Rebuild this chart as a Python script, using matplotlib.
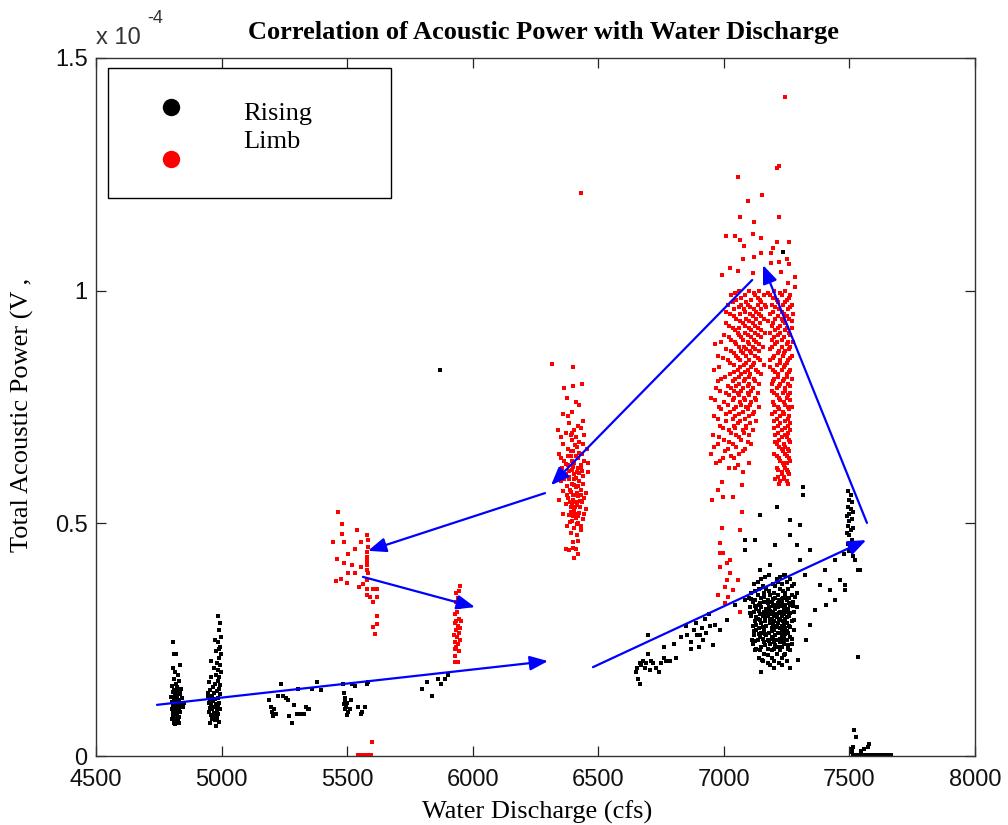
import numpy as np
import matplotlib.pyplot as plt
from matplotlib.patches import Rectangle

# discharge (cfs) vs acoustic power (units of 1e-5 V^2)
black_4800 = [(4805, 2.45), (4820, 2.2), (4812, 2.2), (4835, 1.95), (4808, 1.9), (4815, 1.8),
              (4826, 1.75), (4810, 1.65), (4830, 1.62), (4818, 1.55), (4802, 1.5), (4822, 1.48),
              (4840, 1.45), (4811, 1.42), (4828, 1.4), (4806, 1.38), (4817, 1.35), (4835, 1.33),
              (4813, 1.3), (4824, 1.28), (4800, 1.26), (4809, 1.24), (4820, 1.22), (4832, 1.2),
              (4815, 1.18), (4804, 1.16), (4826, 1.15), (4811, 1.13), (4818, 1.11), (4838, 1.1),
              (4807, 1.09), (4822, 1.07), (4814, 1.05), (4830, 1.04), (4803, 1.02), (4819, 1.0),
              (4827, 0.99), (4810, 0.97), (4816, 0.95), (4834, 0.94), (4805, 0.92), (4823, 0.9),
              (4812, 0.88), (4820, 0.86), (4808, 0.85), (4829, 0.83), (4815, 0.81), (4803, 0.8),
              (4825, 0.78), (4812, 0.76), (4818, 0.74), (4809, 0.72), (4842, 1.25), (4845, 1.05),
              (4850, 1.15), (4836, 1.35), (4814, 0.68), (4830, 0.7)]

black_5000 = [(4985, 3.0), (4992, 2.85), (4990, 2.7), (4998, 2.55), (4975, 2.5), (4985, 2.45),
              (4995, 2.35), (4988, 2.3), (4978, 2.25), (4996, 2.2), (4990, 2.1), (4958, 2.05),
              (4982, 2.0), (4994, 1.95), (4970, 1.9), (4986, 1.85), (4998, 1.8), (4978, 1.75),
              (4960, 1.7), (4990, 1.7), (4984, 1.62), (4952, 1.6), (4975, 1.55), (4995, 1.52),
              (4965, 1.48), (4988, 1.45), (4955, 1.42), (4980, 1.4), (4970, 1.36), (4993, 1.33),
              (4948, 1.3), (4962, 1.28), (4985, 1.25), (4975, 1.22), (4956, 1.2), (4968, 1.18),
              (4990, 1.15), (4950, 1.13), (4978, 1.12), (4960, 1.1), (4985, 1.08), (4970, 1.05),
              (4955, 1.03), (4992, 1.02), (4964, 1.0), (4980, 0.98), (4950, 0.95), (4972, 0.93),
              (4986, 0.9), (4958, 0.88), (4968, 0.85), (4982, 0.82), (4962, 0.8), (4975, 0.78),
              (4990, 0.74), (4955, 0.72), (4978, 0.65), (4970, 0.85), (4945, 1.35)]

black_5300 = [(5190, 1.2), (5195, 1.05), (5200, 0.95), (5205, 0.85), (5210, 1.0), (5215, 0.9),
              (5235, 1.55), (5225, 1.3), (5245, 1.3), (5255, 1.25), (5265, 1.2), (5270, 0.85),
              (5290, 1.1), (5305, 1.45), (5300, 0.9), (5315, 0.9), (5330, 0.9), (5335, 1.05),
              (5345, 1.0), (5350, 1.0), (5360, 1.45), (5380, 1.6), (5395, 1.42), (5280, 0.72),
              (5485, 1.55), (5488, 1.35), (5490, 1.25), (5492, 1.18), (5487, 1.12), (5495, 1.05),
              (5490, 1.0), (5500, 1.15), (5505, 0.95), (5498, 0.88), (5510, 1.0), (5515, 1.2),
              (5520, 1.55), (5530, 1.5), (5545, 1.05), (5555, 0.9), (5560, 0.95), (5570, 1.05),
              (5580, 1.55), (5585, 1.6), (5800, 1.45), (5820, 1.6), (5840, 1.3), (5860, 1.65),
              (5875, 1.55), (5890, 1.65), (5870, 8.3), (5900, 1.75)]

black_6800 = [(6650, 1.8), (6655, 1.9), (6660, 1.65), (6665, 2.0), (6672, 1.95), (6678, 2.05),
              (6685, 1.9), (6690, 2.0), (6700, 2.2), (6705, 1.85), (6712, 2.05), (6720, 2.0),
              (6730, 1.9), (6740, 1.8), (6748, 2.0), (6760, 2.35), (6770, 2.05), (6785, 2.05),
              (6800, 2.4), (6810, 2.1), (6830, 2.55), (6850, 2.8), (6855, 2.6), (6870, 2.45),
              (6880, 2.7), (6890, 2.85), (6900, 2.35), (6905, 2.6), (6915, 2.75), (6925, 2.95),
              (6930, 2.65), (6940, 3.05), (6945, 2.8), (6700, 2.6), (6665, 1.55), (6870, 2.3),
              (6760, 2.1), (6893, 2.6), (6917, 2.49), (6957, 2.39), (6965, 2.82), (6985, 2.71),
              (7013, 2.92), (7045, 3.25), (7084, 3.35)]

# dense black core near 7200 cfs: (power, [discharges])
black_core_rows = [(3.9, [7180, 7240]), (3.8, [7150, 7210, 7265]), (3.7, [7120, 7195, 7230, 7280]),
                   (3.6, [7140, 7170, 7225, 7255]), (3.5, [7110, 7160, 7200, 7245, 7290]),
                   (3.45, [7135, 7185, 7215, 7270]), (3.4, [7100, 7150, 7205, 7235, 7260]),
                   (3.35, [7125, 7175, 7220, 7250]), (3.3, [7115, 7160, 7190, 7230, 7275]),
                   (3.25, [7140, 7200, 7245, 7265]), (3.2, [7105, 7150, 7180, 7215, 7240, 7290]),
                   (3.15, [7130, 7170, 7205, 7255]), (3.1, [7120, 7160, 7195, 7225, 7250, 7280]),
                   (3.05, [7145, 7185, 7210, 7240]), (3.0, [7110, 7155, 7175, 7200, 7230, 7260]),
                   (2.95, [7135, 7190, 7220, 7245]), (2.9, [7125, 7165, 7200, 7235, 7270]),
                   (2.85, [7150, 7185, 7215, 7250]), (2.8, [7115, 7170, 7205, 7230, 7260]),
                   (2.75, [7140, 7190, 7225, 7245]), (2.7, [7130, 7160, 7200, 7240, 7280]),
                   (2.65, [7150, 7180, 7215, 7255]), (2.6, [7120, 7170, 7205, 7230]),
                   (2.55, [7145, 7190, 7240, 7265]), (2.5, [7135, 7175, 7210, 7250]),
                   (2.45, [7160, 7200, 7225]), (2.4, [7115, 7185, 7240, 7270]),
                   (2.35, [7150, 7215, 7230]), (2.3, [7130, 7175, 7200, 7255]),
                   (2.2, [7160, 7210, 7245]), (2.1, [7140, 7190, 7230]), (2.0, [7175, 7220]),
                   (1.9, [7200, 7265]), (1.8, [7150]),
                   (3.85, [7165, 7225]), (3.75, [7135, 7215, 7250]), (3.65, [7155, 7205, 7270]),
                   (3.55, [7125, 7180, 7235]), (3.42, [7160, 7245, 7285]), (3.37, [7110, 7195, 7230]),
                   (3.28, [7145, 7175, 7215, 7260]), (3.22, [7125, 7195, 7230, 7275]),
                   (3.12, [7140, 7185, 7240]), (3.07, [7105, 7170, 7220, 7265]),
                   (2.98, [7130, 7165, 7210, 7250]), (2.92, [7145, 7185, 7225, 7280]),
                   (2.82, [7130, 7195, 7240]), (2.77, [7155, 7210, 7265]),
                   (2.68, [7120, 7190, 7230, 7250]), (2.62, [7140, 7165, 7245]),
                   (2.52, [7155, 7195, 7225, 7270]), (2.47, [7125, 7180, 7240]),
                   (2.38, [7165, 7205, 7255]), (2.27, [7145, 7190, 7225]), (2.17, [7175, 7240]),
                   (2.05, [7155, 7200, 7250]), (1.95, [7185, 7230])]

black_7300 = [(7315, 5.78), (7315, 5.6), (7212, 5.35), (7144, 5.18), (7124, 4.64), (7263, 5.07),
              (7303, 4.96), (7263, 4.75), (7291, 4.53), (7204, 4.53), (7084, 4.64), (7084, 4.43),
              (7184, 4.1), (7144, 4.0), (7243, 3.89), (7303, 4.21), (7343, 4.43), (7323, 3.89),
              (7383, 3.68), (7422, 3.57), (7402, 4.0), (7442, 4.21), (7462, 3.78), (7522, 4.21),
              (7502, 4.53), (7482, 3.68), (7542, 4.0), (7112, 2.49), (7124, 2.28), (7152, 2.06),
              (7263, 2.28), (7295, 2.06), (7327, 2.49), (7343, 2.82), (7363, 3.14), (7406, 3.25),
              (7442, 3.35), (7482, 3.57), (7534, 4.0), (7534, 2.13), (7236, 10.83),
              (7495, 5.7), (7505, 5.6), (7500, 5.5), (7510, 5.45), (7495, 5.35), (7505, 5.3),
              (7515, 5.25), (7500, 5.2), (7490, 5.15), (7510, 5.1), (7500, 5.05), (7495, 4.95),
              (7515, 4.9), (7505, 4.85), (7490, 4.8), (7500, 4.75), (7510, 4.65), (7495, 4.55),
              (7505, 4.5), (7500, 4.4), (7480, 4.35), (7515, 4.3)]

black_zero = [(7520, 0.55), (7525, 0.4), (7515, 0.2), (7560, 0.15), (7580, 0.25), (7575, 0.2),
              (7512, 0.1), (7512, 0.15), (7512, 0.08), (7515, 0.02), (7522, 0.02), (7530, 0.02),
              (7538, 0.02), (7545, 0.02), (7552, 0.02), (7560, 0.02), (7568, 0.02), (7575, 0.02),
              (7583, 0.02), (7590, 0.02), (7598, 0.02), (7605, 0.02), (7612, 0.02), (7620, 0.02),
              (7628, 0.02), (7635, 0.02), (7642, 0.02), (7650, 0.02), (7658, 0.02), (7665, 0.02),
              (7545, 0.06), (7548, 0.1)]

red_5550 = [(5464, 5.24), (5480, 4.99), (5480, 4.77), (5444, 4.6), (5488, 4.6), (5539, 4.86),
            (5579, 4.75), (5583, 4.64), (5555, 4.6), (5531, 4.45), (5503, 4.34), (5579, 4.38),
            (5460, 4.23), (5488, 4.15), (5519, 4.1), (5579, 4.19), (5555, 4.06), (5531, 3.93),
            (5503, 3.93), (5583, 3.93), (5476, 3.8), (5456, 3.76), (5499, 3.72), (5579, 3.78),
            (5563, 3.7), (5547, 3.63), (5579, 3.59), (5603, 3.59), (5619, 3.59), (5579, 3.46),
            (5591, 3.42), (5619, 3.42), (5603, 3.31), (5619, 3.01), (5603, 2.77), (5619, 2.84),
            (5611, 2.62), (5579, 4.28), (5579, 4.1), (5579, 4.0), (5583, 4.49),
            (5545, 0.02), (5555, 0.02), (5565, 0.02), (5575, 0.02), (5585, 0.02), (5595, 0.02),
            (5598, 0.3)]

red_5940 = [(5950, 3.65), (5945, 3.55), (5940, 3.4), (5935, 3.3), (5945, 3.2), (5938, 3.1),
            (5930, 3.05), (5945, 2.95), (5935, 2.9), (5928, 2.85), (5940, 2.8), (5950, 2.75),
            (5932, 2.7), (5945, 2.65), (5925, 2.6), (5938, 2.55), (5948, 2.5), (5930, 2.45),
            (5942, 2.4), (5935, 2.35), (5928, 2.3), (5945, 2.25), (5930, 2.15), (5928, 2.02),
            (5940, 2.02), (5952, 2.9), (5935, 3.5)]

red_6400 = [(6431, 12.1), (6316, 8.42), (6399, 8.36),
            (6400, 7.95), (6435, 8.0), (6375, 7.7), (6410, 7.6), (6395, 7.4), (6360, 7.35),
            (6440, 7.2), (6385, 7.15), (6420, 7.1), (6405, 7.0), (6370, 6.95), (6445, 6.9),
            (6350, 6.85), (6395, 6.8), (6425, 6.75), (6360, 6.7), (6415, 6.65), (6455, 6.6),
            (6380, 6.6), (6400, 6.55), (6435, 6.5), (6345, 6.5), (6390, 6.45), (6420, 6.4),
            (6365, 6.35), (6445, 6.35), (6405, 6.3), (6380, 6.25), (6430, 6.22), (6355, 6.2),
            (6395, 6.15), (6415, 6.1), (6460, 6.1), (6370, 6.05), (6440, 6.02), (6385, 6.0),
            (6405, 5.95), (6425, 5.92), (6350, 5.9), (6395, 5.85), (6440, 5.85), (6375, 5.8),
            (6410, 5.78), (6430, 5.72), (6360, 5.7), (6390, 5.68), (6450, 5.65), (6405, 5.62),
            (6420, 5.58), (6380, 5.55), (6345, 5.5), (6400, 5.5), (6435, 5.45), (6370, 5.42),
            (6415, 5.4), (6390, 5.35), (6450, 5.3), (6405, 5.28), (6425, 5.22), (6360, 5.2),
            (6385, 5.18), (6410, 5.12), (6440, 5.1), (6395, 5.05), (6420, 5.0), (6375, 4.95),
            (6405, 4.9), (6430, 4.85), (6390, 4.8), (6415, 4.75), (6400, 4.6), (6370, 4.45),
            (6385, 4.42), (6420, 4.35), (6405, 4.25), (6440, 6.7), (6410, 6.85), (6430, 6.25),
            (6395, 6.35), (6410, 6.45), (6385, 5.95), (6420, 5.8), (6398, 5.6), (6412, 5.45),
            (6392, 5.25), (6428, 5.35), (6402, 6.05), (6418, 6.2), (6378, 6.45), (6442, 5.55),
            (6365, 5.95), (6352, 6.4), (6445, 5.2), (6432, 4.95), (6408, 5.2), (6388, 5.45),
            (6396, 6.95), (6380, 7.3), (6425, 7.55), (6365, 7.9), (6340, 7.0), (6460, 6.3),
            (6382, 6.12), (6398, 6.22), (6412, 5.98), (6424, 6.08), (6388, 5.72), (6402, 5.82),
            (6416, 5.66), (6432, 5.62), (6395, 5.42), (6408, 5.35), (6420, 5.15), (6400, 5.15),
            (6386, 5.02), (6414, 4.98), (6426, 5.48), (6376, 5.62), (6392, 6.55), (6406, 6.68),
            (6422, 6.52), (6436, 6.12), (6372, 6.28), (6418, 4.62), (6398, 4.48), (6412, 4.45),
            (6390, 6.9), (6430, 7.05)]

red_7100_sparse = [(7244, 14.16), (7212, 12.64), (7220, 12.68), (7056, 12.44), (7152, 12.06),
                   (7096, 11.93), (7064, 11.58), (7220, 11.58), (7120, 11.48), (7009, 11.18),
                   (7044, 11.18), (7116, 11.22), (7148, 11.13), (7064, 11.09), (7212, 11.05),
                   (7260, 11.05), (7080, 10.96), (7196, 10.92), (7076, 10.68), (7148, 10.81),
                   (7120, 10.72), (7188, 10.81), (7252, 10.68), (7220, 10.62), (7025, 10.49),
                   (7056, 10.42), (7260, 10.57), (6993, 10.34), (7116, 10.38), (7188, 10.6),
                   (7228, 10.4), (7283, 10.3), (7283, 10.08), (7256, 10.17),
                   (6953, 5.5), (6977, 5.72), (6997, 5.57), (7037, 5.57), (7044, 6.19),
                   (7076, 6.1), (7072, 5.82), (6993, 5.89), (7072, 5.24), (6993, 4.9),
                   (7064, 4.86), (6985, 4.58), (6997, 4.36), (7013, 4.15), (6985, 4.06),
                   (7025, 3.93), (7013, 3.78), (7056, 3.78), (7005, 3.63), (6977, 3.46),
                   (7017, 3.42), (7005, 3.29), (7064, 3.09), (7037, 3.57), (7025, 4.21),
                   (6985, 4.36)]

# dense red core near 7100 cfs: (power, [discharges])
red_core_rows = [(10.0, [7060, 7100, 7140, 7200, 7245]), (9.9, [7030, 7085, 7125, 7160, 7185, 7230, 7265]),
                 (9.8, [7050, 7110, 7145, 7210, 7250]), (9.7, [7015, 7070, 7095, 7135, 7165, 7190, 7235, 7270]),
                 (9.6, [7040, 7080, 7120, 7150, 7220, 7255]), (9.5, [7025, 7065, 7105, 7140, 7185, 7240, 7275]),
                 (9.4, [7050, 7090, 7130, 7160, 7205, 7230, 7260]), (9.3, [7010, 7075, 7115, 7145, 7195, 7245]),
                 (9.2, [7035, 7060, 7100, 7135, 7215, 7250, 7270]), (9.1, [7055, 7085, 7125, 7165, 7185, 7225, 7260]),
                 (9.0, [7020, 7070, 7110, 7150, 7200, 7240]), (8.9, [6990, 7045, 7095, 7130, 7210, 7255, 7275]),
                 (8.8, [7060, 7080, 7115, 7155, 7190, 7230, 7265]), (8.7, [7030, 7070, 7105, 7140, 7220, 7245]),
                 (8.6, [6975, 7050, 7090, 7125, 7200, 7235, 7270]), (8.5, [7015, 7065, 7100, 7145, 7185, 7225, 7255]),
                 (8.4, [7040, 7080, 7115, 7160, 7210, 7245]), (8.3, [6960, 7055, 7095, 7130, 7195, 7230, 7265]),
                 (8.2, [7025, 7070, 7105, 7150, 7215, 7250]), (8.1, [6990, 7045, 7085, 7120, 7200, 7240, 7270]),
                 (8.0, [7060, 7100, 7140, 7190, 7225, 7255]), (7.9, [6970, 7030, 7075, 7115, 7210, 7245]),
                 (7.8, [7010, 7055, 7095, 7135, 7200, 7235, 7265]), (7.7, [6950, 7040, 7080, 7125, 7220, 7250]),
                 (7.6, [7000, 7065, 7110, 7195, 7240]), (7.5, [6980, 7050, 7090, 7140, 7215, 7255, 7270]),
                 (7.4, [7025, 7075, 7120, 7205, 7235]), (7.3, [6960, 7045, 7100, 7225, 7260]),
                 (7.2, [7010, 7065, 7130, 7200, 7245]), (7.1, [6985, 7040, 7090, 7215, 7255]),
                 (7.0, [7020, 7075, 7115, 7230, 7265]), (6.9, [6955, 7050, 7100, 7205, 7245]),
                 (6.8, [7000, 7070, 7220, 7260]), (6.7, [6975, 7035, 7110, 7210, 7240]),
                 (6.6, [7015, 7085, 7230, 7255]), (6.5, [6950, 7060, 7200, 7245]),
                 (6.4, [6995, 7040, 7220, 7260]), (6.3, [6970, 7100, 7235, 7250]),
                 (6.2, [7020, 7210, 7245]), (6.1, [7230, 7255]), (6.0, [7215, 7240]), (5.9, [7225, 7250]),
                 (9.95, [7045, 7120, 7175, 7225]), (9.85, [7070, 7135, 7195, 7260]),
                 (9.75, [7035, 7090, 7150, 7215, 7245]), (9.65, [7060, 7105, 7170, 7205, 7265]),
                 (9.55, [7010, 7085, 7130, 7195, 7230]), (9.45, [7040, 7115, 7150, 7215, 7250]),
                 (9.35, [7065, 7100, 7175, 7235, 7270]), (9.25, [7020, 7085, 7125, 7190, 7225]),
                 (9.15, [7045, 7110, 7150, 7205, 7245]), (9.05, [7000, 7060, 7095, 7135, 7215, 7265]),
                 (8.95, [7030, 7075, 7120, 7190, 7230]), (8.85, [6965, 7050, 7100, 7140, 7205, 7250]),
                 (8.75, [7010, 7090, 7125, 7185, 7260]), (8.65, [7040, 7075, 7110, 7215, 7240]),
                 (8.55, [6995, 7055, 7135, 7195, 7265]), (8.45, [7025, 7090, 7120, 7225, 7250]),
                 (8.35, [6980, 7065, 7110, 7185, 7240]), (8.25, [7040, 7085, 7135, 7205, 7260]),
                 (8.15, [7005, 7060, 7100, 7215, 7250]), (8.05, [6975, 7035, 7080, 7125, 7195, 7235]),
                 (7.95, [7015, 7050, 7095, 7220, 7265]), (7.85, [6985, 7040, 7070, 7110, 7190, 7245]),
                 (7.75, [7020, 7060, 7100, 7210, 7255]), (7.65, [6965, 7035, 7085, 7130, 7225, 7265]),
                 (7.55, [7015, 7070, 7105, 7200, 7245]), (7.45, [6990, 7040, 7095, 7220, 7260]),
                 (7.35, [7010, 7060, 7115, 7190, 7240]), (7.25, [6975, 7035, 7085, 7210, 7255]),
                 (7.15, [7055, 7105, 7225, 7265]), (7.05, [6995, 7045, 7090, 7200, 7245]),
                 (6.95, [7030, 7080, 7215, 7255]), (6.85, [6980, 7060, 7230, 7250]),
                 (6.75, [7020, 7095, 7205, 7265]), (6.65, [6960, 7050, 7220, 7245]),
                 (6.55, [7005, 7075, 7235, 7260]), (6.45, [7030, 7210, 7250]),
                 (6.35, [6985, 7225, 7265]), (6.25, [7055, 7240]), (6.15, [7215, 7250]),
                 (6.05, [7230, 7260]), (5.95, [7205, 7240]), (5.85, [7220, 7255])]

tick_x = [4500, 5000, 5500, 6000, 6500, 7000, 7500, 8000]
tick_y = [0, 0.5e-4, 1e-4, 1.5e-4]
tick_y_labels = ['0', '0.5', '1', '1.5']

# hysteresis arrows (start, end) in (cfs, 1e-5 V^2)
arrows = [((4743, 1.10), (6300, 2.04)),
          ((6479, 1.91), (7567, 4.64)),
          ((7570, 5.01), (7156, 10.55)),
          ((7113, 10.23), (6312, 5.82)),
          ((6288, 5.65), (5583, 4.41)),
          ((5563, 3.85), (6009, 3.20))]


def rows_to_pts(rows):
    return [(x, y) for y, xs in rows for x in xs]


black = black_4800 + black_5000 + black_5300 + black_6800 + rows_to_pts(black_core_rows) + black_7300 + black_zero
red = red_5550 + red_5940 + red_6400 + red_7100_sparse + rows_to_pts(red_core_rows)
black = np.array(black, dtype=float)
red = np.array(red, dtype=float)

fig = plt.figure(figsize=(10.08, 8.25), dpi=100)
ax = fig.add_axes([0.0952, 0.0836, 0.8720, 0.8461])

ax.scatter(black[:, 0], black[:, 1] * 1e-5, s=6, marker='s', c='black', linewidths=0)
ax.scatter(red[:, 0], red[:, 1] * 1e-5, s=6, marker='s', c='#ff0000', linewidths=0)

for (x0, y0), (x1, y1) in arrows:
    ax.annotate('', xy=(x1, y1 * 1e-5), xytext=(x0, y0 * 1e-5),
                arrowprops=dict(arrowstyle='-|>,head_length=0.55,head_width=0.22',
                                color='#0000ff', lw=1.6, mutation_scale=20,
                                shrinkA=0, shrinkB=0))

ax.set_xlim(4500, 8000)
ax.set_ylim(0, 1.5e-4)
ax.set_xticks(tick_x)
ax.set_xticklabels([str(t) for t in tick_x])
ax.set_yticks(tick_y)
ax.set_yticklabels(tick_y_labels)
ax.tick_params(direction='in', length=7, width=0.9, top=True, right=True,
               labelsize=17, colors='#222222')
ax.tick_params(axis='x', pad=9)
ax.tick_params(axis='y', pad=6)
for lab in ax.get_xticklabels() + ax.get_yticklabels():
    lab.set_family('Liberation Sans')
    lab.set_color('#111111')
for sp in ax.spines.values():
    sp.set_linewidth(1.0)
    sp.set_color('#333333')

# legend box drawn by hand
ax.add_patch(Rectangle((0.0137, 0.7994), 0.322, 0.1863, transform=ax.transAxes,
                       fill=False, edgecolor='black', lw=1.0, zorder=5))
ax.plot([0.0853], [0.9298], 'o', color='black', ms=11.5, transform=ax.transAxes, zorder=6)
ax.plot([0.0853], [0.8553], 'o', color='#ff0000', ms=11.5, transform=ax.transAxes, zorder=6)
ax.text(0.167, 0.900, 'Rising\nLimb', transform=ax.transAxes, family='Liberation Serif',
        fontsize=19, va='center', ha='left', linespacing=1.35)

fig.text(0.0955, 0.954, 'x 10', family='Liberation Sans', fontsize=17, color='#333333',
         va='center', ha='left')
fig.text(0.146, 0.977, '-4', family='Liberation Sans', fontsize=13, color='#333333',
         va='center', ha='left')

fig.text(0.539, 0.960, 'Correlation of Acoustic Power with Water Discharge',
         family='Liberation Serif', fontweight='bold', fontsize=19, ha='center', va='center')
fig.text(0.533, 0.016, 'Water Discharge (cfs)', family='Liberation Serif', fontsize=19,
         ha='center', va='center')
fig.text(0.022, 0.497, 'Total Acoustic Power (V ,', family='Liberation Serif', fontsize=19,
         ha='center', va='center', rotation=90)

fig.savefig('out.png', dpi=100)
